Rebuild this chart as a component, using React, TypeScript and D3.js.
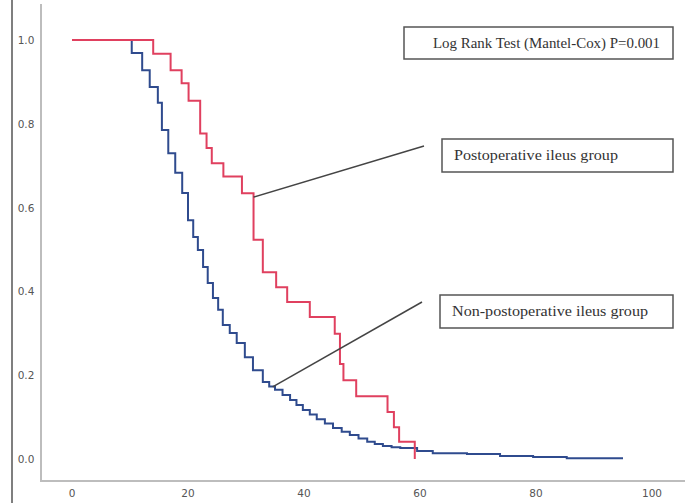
import React from "react";
import * as d3 from "d3";

// ---- Data ----
const xTicks = [0, 20, 40, 60, 80, 100];
const yTicks = [0.0, 0.2, 0.4, 0.6, 0.8, 1.0];

// Postoperative ileus group (red)
const poiTimes = [0, 14.0, 17.0, 18.9, 20.1, 22.1, 23.2, 24.1, 26.1, 29.3, 31.3, 32.9, 35.2, 37.1, 41.0, 45.3, 46.2, 46.8, 49.0, 54.4, 55.5, 56.4, 59.1];
const poiSurv = [1.0, 0.967, 0.928, 0.897, 0.855, 0.777, 0.742, 0.706, 0.674, 0.634, 0.523, 0.446, 0.41, 0.375, 0.339, 0.299, 0.227, 0.188, 0.15, 0.112, 0.076, 0.041, 0.0];

// Non-postoperative ileus group (blue)
const nonTimes = [0, 8.8, 10.3, 12.1, 13.4, 14.8, 15.5, 16.6, 17.8, 19.0, 20.0, 20.9, 21.7, 22.6, 23.4, 24.3, 25.2, 26.0, 27.2, 28.4, 29.8, 31.2, 32.9, 34.0, 35.0, 36.3, 37.6, 38.7, 39.8, 41.0, 42.2, 43.6, 45.0, 46.5, 47.9, 49.4, 50.9, 52.2, 53.6, 55.1, 56.6, 59.5, 62.2, 68.1, 73.8, 79.5, 85.3, 95.0];
const nonSurv = [1.0, 1.0, 0.969, 0.928, 0.888, 0.85, 0.785, 0.73, 0.683, 0.635, 0.57, 0.53, 0.499, 0.458, 0.42, 0.384, 0.356, 0.32, 0.301, 0.277, 0.243, 0.212, 0.184, 0.173, 0.165, 0.153, 0.141, 0.129, 0.117, 0.106, 0.095, 0.085, 0.074, 0.065, 0.057, 0.049, 0.041, 0.036, 0.031, 0.028, 0.026, 0.019, 0.014, 0.012, 0.007, 0.005, 0.002, 0.002];

const testLabel = "Log Rank Test (Mantel-Cox) P=0.001";
const poiLabel = "Postoperative ileus group";
const nonLabel = "Non-postoperative ileus group";

export default function App() {
  const W = 685;
  const H = 503;
  const x = d3.scaleLinear().domain([0, 100]).range([72, 652]);
  const y = d3.scaleLinear().domain([0, 1]).range([459, 40]);

  const line = d3
    .line<[number, number]>()
    .x((d) => x(d[0]))
    .y((d) => y(d[1]))
    .curve(d3.curveStepAfter);

  const poi: [number, number][] = poiTimes.map((t, i) => [t, poiSurv[i]]);
  const non: [number, number][] = nonTimes.map((t, i) => [t, nonSurv[i]]);

  const tickFont = "'DejaVu Sans', sans-serif";
  const boxFont = "'Liberation Serif', 'Times New Roman', serif";

  return (
    <svg
      width={W}
      height={H}
      style={{ position: "absolute", left: 0, top: 0, background: "#fff" }}
    >
      <rect x={0} y={0} width={W} height={H} fill="#fff" />
      {/* left frame line */}
      <line x1={12} y1={0} x2={12} y2={H} stroke="#555" strokeWidth={1.5} />
      {/* axes */}
      <line x1={41} y1={4} x2={41} y2={482} stroke="#bdbdbd" strokeWidth={2} />
      <line x1={40} y1={481} x2={685} y2={481} stroke="#bdbdbd" strokeWidth={2} />

      {yTicks.map((v) => (
        <text
          key={"y" + v}
          x={26}
          y={y(v)}
          textAnchor="middle"
          dominantBaseline="central"
          fontFamily={tickFont}
          fontSize={10.5}
          fill="#555"
        >
          {v.toFixed(1)}
        </text>
      ))}
      {xTicks.map((t) => (
        <text
          key={"x" + t}
          x={x(t)}
          y={493}
          textAnchor="middle"
          dominantBaseline="central"
          fontFamily={tickFont}
          fontSize={10.5}
          fill="#555"
        >
          {t}
        </text>
      ))}

      {/* curves */}
      <path d={line(non) || ""} fill="none" stroke="#2f4b8e" strokeWidth={2} />
      <path d={line(poi) || ""} fill="none" stroke="#e0405f" strokeWidth={2} />

      {/* leader lines */}
      <line x1={x(31.3)} y1={y(0.625)} x2={424} y2={146} stroke="#444" strokeWidth={1.5} />
      <line x1={x(34.6)} y1={y(0.172)} x2={422} y2={302} stroke="#444" strokeWidth={1.5} />

      {/* boxes */}
      <rect x={404} y={27} width={269} height={32} fill="#fff" stroke="#555" strokeWidth={1.5} />
      <text x={433} y={47.5} fontFamily={boxFont} fontSize={14.5} fill="#333" textLength={227} lengthAdjust="spacingAndGlyphs">
        {testLabel}
      </text>

      <rect x={442} y={139} width={231} height={33} fill="#fff" stroke="#555" strokeWidth={1.5} />
      <text x={454} y={160} fontFamily={boxFont} fontSize={15} fill="#333" textLength={164} lengthAdjust="spacingAndGlyphs">
        {poiLabel}
      </text>

      <rect x={440} y={295} width={233} height={33} fill="#fff" stroke="#555" strokeWidth={1.5} />
      <text x={452} y={316} fontFamily={boxFont} fontSize={15} fill="#333" textLength={196} lengthAdjust="spacingAndGlyphs">
        {nonLabel}
      </text>
    </svg>
  );
}
